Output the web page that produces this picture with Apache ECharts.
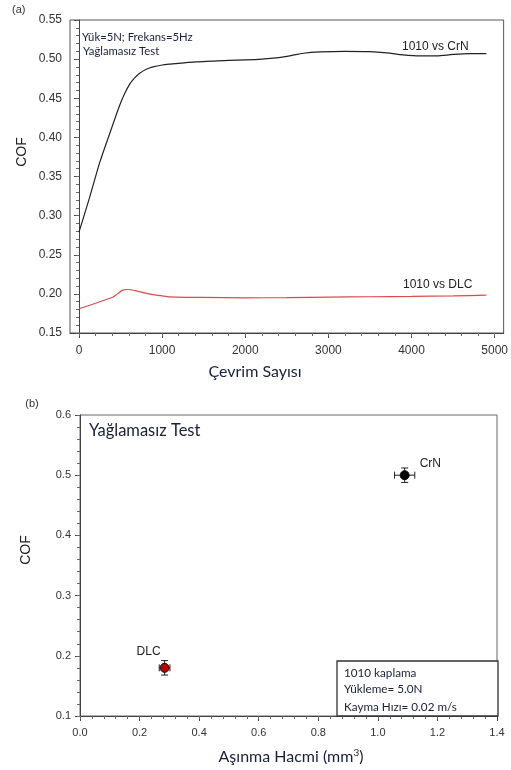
<!DOCTYPE html>
<html>
<head>
<meta charset="utf-8">
<script src="https://cdn.jsdelivr.net/npm/echarts@6/dist/echarts.min.js"></script>
<style>
  html, body { margin: 0; padding: 0; background: #fff; }
  #chart { width: 511px; height: 770px; }
</style>
</head>
<body>
<div id="chart"></div>
<script>
// (a) friction coefficient vs. cycle count, dry sliding
const crnCycles = [0, 130, 250, 370, 490, 550, 610, 670, 730, 810, 890, 1000, 1100, 1200, 1400, 1600, 1800, 2000, 2200, 2400, 2550, 2700, 2900, 3200, 3500, 3700, 3900, 4100, 4300, 4500, 4700, 4900];
const crnCof    = [0.279, 0.324, 0.368, 0.405, 0.441, 0.456, 0.468, 0.476, 0.482, 0.487, 0.490, 0.4925, 0.4937, 0.4946, 0.4965, 0.4975, 0.4985, 0.499, 0.500, 0.502, 0.5045, 0.5075, 0.5092, 0.510, 0.5095, 0.508, 0.5055, 0.5042, 0.5042, 0.506, 0.507, 0.507];
const dlcCycles = [0, 200, 410, 450, 520, 590, 690, 800, 930, 1090, 1300, 1500, 2000, 2500, 3000, 3500, 4000, 4500, 4900];
const dlcCof    = [0.181, 0.188, 0.196, 0.199, 0.2045, 0.2056, 0.2038, 0.201, 0.1983, 0.1962, 0.1956, 0.1954, 0.195, 0.1952, 0.1958, 0.1963, 0.1968, 0.1975, 0.1983];

const cycleTicks = [0, 1000, 2000, 3000, 4000, 5000];
const cycleMinorTicks = [0, 200, 400, 600, 800, 1000, 1200, 1400, 1600, 1800, 2000, 2200, 2400, 2600, 2800, 3000, 3200, 3400, 3600, 3800, 4000, 4200, 4400, 4600, 4800, 5000];
const cofTicksA = [0.15, 0.20, 0.25, 0.30, 0.35, 0.40, 0.45, 0.50, 0.55];
const cofMinorTicksA = [];
for (let i = 15; i <= 55; i++) cofMinorTicksA.push(i / 100);

// (b) friction coefficient vs. wear volume
const coatings   = ['CrN', 'DLC'];
const wearVolume = [1.09, 0.284];
const wearErr    = [0.034, 0.018];
const meanCof    = [0.50, 0.18];
const cofErr     = [0.012, 0.012];
const markerFill = ['#000000', '#c00000'];

const wearTicks = [0.0, 0.2, 0.4, 0.6, 0.8, 1.0, 1.2, 1.4];
const wearMinorTicks = [];
for (let i = 0; i <= 35; i++) wearMinorTicks.push(i * 0.04);
const cofTicksB = [0.1, 0.2, 0.3, 0.4, 0.5, 0.6];
const cofMinorTicksB = [];
for (let i = 5; i <= 30; i++) cofMinorTicksB.push(i * 0.02);

const tickFont = 'Liberation Sans, Arial, sans-serif';
const textFont = 'Lato, "Open Sans", sans-serif';
const navy = '#18203a';
const axisColor = '#444';

function zip(a, b) { return a.map((v, i) => [v, b[i]]); }

function majorAxis(gridIndex, min, max, ticks, fmt, dim, margin, fs) {
  return {
    type: 'value', gridIndex, min, max,
    position: dim === 'x' ? 'bottom' : 'left',
    axisLine: { show: true, lineStyle: { color: axisColor, width: 1 } },
    splitLine: { show: false },
    axisTick: { show: true, customValues: ticks, length: 5, lineStyle: { color: axisColor } },
    axisLabel: { show: true, customValues: ticks, formatter: fmt, margin, fontSize: fs, color: '#333', fontFamily: tickFont }
  };
}
function minorAxis(gridIndex, min, max, ticks, dim) {
  return {
    type: 'value', gridIndex, min, max,
    position: dim === 'x' ? 'bottom' : 'left',
    axisLine: { show: false },
    splitLine: { show: false },
    axisTick: { show: true, customValues: ticks, length: 3, lineStyle: { color: '#666' } },
    axisLabel: { show: false }
  };
}

const errData = wearVolume.map((x, i) => [x, meanCof[i], wearErr[i], cofErr[i]]);

const option = {
  animation: false,
  backgroundColor: '#fff',
  grid: [
    { left: 70, top: 20, width: 436, height: 313, show: true, borderColor: '#555', borderWidth: 1 },
    { left: 80, top: 415, width: 417, height: 301, show: true, borderColor: '#666', borderWidth: 1 }
  ],
  xAxis: [
    majorAxis(0, -108, 5108, cycleTicks, v => String(v), 'x', 12, 12),
    minorAxis(0, -108, 5108, cycleMinorTicks, 'x'),
    majorAxis(1, 0, 1.4, wearTicks, v => v.toFixed(1), 'x', 11, 11),
    minorAxis(1, 0, 1.4, wearMinorTicks, 'x')
  ],
  yAxis: [
    majorAxis(0, 0.15, 0.55, cofTicksA, v => v.toFixed(2), 'y', 8, 12),
    minorAxis(0, 0.15, 0.55, cofMinorTicksA, 'y'),
    majorAxis(1, 0.1, 0.6, cofTicksB, v => v.toFixed(1), 'y', 9, 11),
    minorAxis(1, 0.1, 0.6, cofMinorTicksB, 'y')
  ],
  series: [
    {
      name: '1010 vs CrN', type: 'line', xAxisIndex: 0, yAxisIndex: 0,
      data: zip(crnCycles, crnCof), showSymbol: false, smooth: 0.3,
      lineStyle: { color: '#222', width: 1.2 }
    },
    {
      name: '1010 vs DLC', type: 'line', xAxisIndex: 0, yAxisIndex: 0,
      data: zip(dlcCycles, dlcCof), showSymbol: false, smooth: 0.15,
      lineStyle: { color: '#de4a4a', width: 1.2 }
    },
    {
      name: 'error', type: 'custom', xAxisIndex: 2, yAxisIndex: 2,
      data: errData,
      encode: { x: 0, y: 1 },
      renderItem: function (params, api) {
        const x = api.value(0), y = api.value(1), ex = api.value(2), ey = api.value(3);
        const l = api.coord([x - ex, y]), r = api.coord([x + ex, y]);
        const t = api.coord([x, y + ey]), b = api.coord([x, y - ey]);
        const cap = 3.5;
        const style = { stroke: '#222', lineWidth: 1 };
        const seg = (x1, y1, x2, y2) => ({ type: 'line', shape: { x1, y1, x2, y2 }, style });
        return {
          type: 'group',
          children: [
            seg(l[0], l[1], r[0], r[1]),
            seg(l[0], l[1] - cap, l[0], l[1] + cap),
            seg(r[0], r[1] - cap, r[0], r[1] + cap),
            seg(t[0], t[1], b[0], b[1]),
            seg(t[0] - cap, t[1], t[0] + cap, t[1]),
            seg(b[0] - cap, b[1], b[0] + cap, b[1])
          ]
        };
      },
      z: 2
    },
    {
      name: 'coatings', type: 'scatter', xAxisIndex: 2, yAxisIndex: 2,
      symbol: 'circle', symbolSize: 9,
      data: wearVolume.map((x, i) => ({
        name: coatings[i],
        value: [x, meanCof[i]],
        itemStyle: { color: markerFill[i], borderColor: '#111', borderWidth: 1, opacity: 1 },
        label: i === 0
          ? { show: true, position: 'right', distance: 10, offset: [0, -12] }
          : { show: true, position: 'top', distance: 5, offset: [-16, 0] }
      })),
      label: { formatter: '{b}', fontSize: 12, color: '#222', fontFamily: tickFont },
      z: 3
    }
  ],
  graphic: [
    { type: 'text', left: 12, top: 4, style: { text: '(a)', fontSize: 11, fill: '#333', fontFamily: tickFont } },
    { type: 'text', x: 82, y: 37, style: { text: 'Yük=5N; Frekans=5Hz', fontSize: 11.3, fill: navy, fontFamily: textFont, verticalAlign: 'middle' } },
    { type: 'text', x: 83, y: 51, style: { text: 'Yağlamasız Test', fontSize: 11.3, fill: navy, fontFamily: textFont, verticalAlign: 'middle' } },
    { type: 'text', x: 402, y: 47, style: { text: '1010 vs CrN', fontSize: 12, fill: '#222', fontFamily: tickFont, verticalAlign: 'middle' } },
    { type: 'text', x: 403, y: 285, style: { text: '1010 vs DLC', fontSize: 12, fill: '#222', fontFamily: tickFont, verticalAlign: 'middle' } },
    { type: 'text', x: 22, y: 152, rotation: Math.PI / 2, style: { text: 'COF', fontSize: 14, fill: '#222', fontFamily: tickFont, align: 'center', verticalAlign: 'middle' } },
    { type: 'text', x: 255, y: 372, style: { text: 'Çevrim Sayısı', fontSize: 16, fill: navy, fontFamily: textFont, align: 'center', verticalAlign: 'middle' } },

    { type: 'text', x: 32, y: 404, style: { text: '(b)', fontSize: 11, fill: '#333', fontFamily: tickFont, align: 'center', verticalAlign: 'middle' } },
    { type: 'text', x: 89, y: 431, style: { text: 'Yağlamasız Test', fontSize: 16.5, fill: navy, fontFamily: textFont, verticalAlign: 'middle' } },
    { type: 'text', x: 26, y: 550, rotation: Math.PI / 2, style: { text: 'COF', fontSize: 14, fill: '#222', fontFamily: tickFont, align: 'center', verticalAlign: 'middle' } },
    {
      type: 'text', x: 291, y: 757,
      style: {
        text: '{a|Aşınma Hacmi (mm}{s|3}{a|)}',
        align: 'center', verticalAlign: 'middle',
        rich: {
          a: { fontSize: 16, fill: navy, fontFamily: textFont },
          s: { fontSize: 10, fill: navy, fontFamily: textFont, verticalAlign: 'top', padding: [0, 0, 9, 0] }
        }
      }
    },
    { type: 'rect', shape: { x: 337, y: 661, width: 161, height: 55 }, style: { fill: '#fff', stroke: '#333', lineWidth: 1.3 }, z: 10 },
    { type: 'text', x: 344, y: 673, z: 11, style: { text: '1010 kaplama', fontSize: 11.7, fill: navy, fontFamily: textFont, verticalAlign: 'middle' } },
    { type: 'text', x: 344, y: 689, z: 11, style: { text: 'Yükleme= 5.0N', fontSize: 11.7, fill: navy, fontFamily: textFont, verticalAlign: 'middle' } },
    { type: 'text', x: 344, y: 707, z: 11, style: { text: 'Kayma Hızı= 0.02 m/s', fontSize: 11.7, fill: navy, fontFamily: textFont, verticalAlign: 'middle' } }
  ]
};

const chart = echarts.init(document.getElementById('chart'), null, { renderer: 'canvas' });
chart.setOption(option);
</script>
</body>
</html>
